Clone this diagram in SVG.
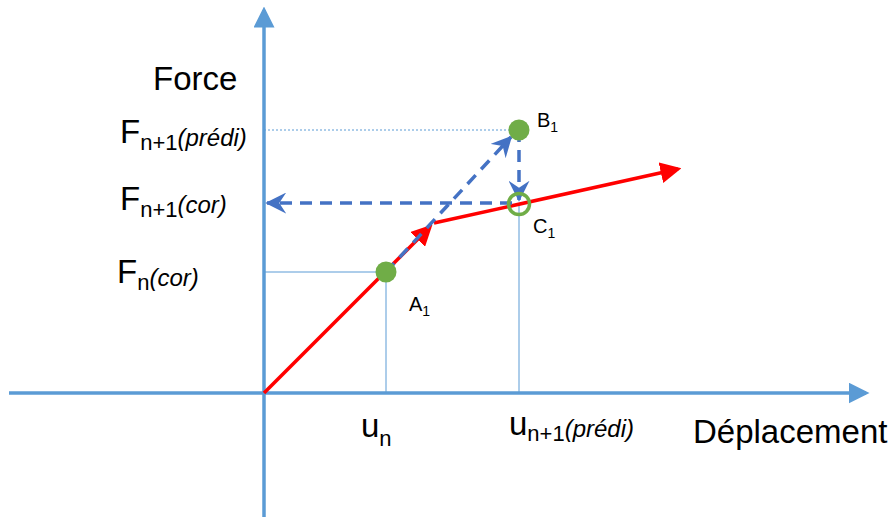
<svg xmlns="http://www.w3.org/2000/svg" width="894" height="517" viewBox="0 0 894 517">
<defs>
<style>
.ax{stroke:#5B9BD5;stroke-width:3.5;fill:none}
.thin{stroke:#5B9BD5;stroke-width:1;fill:none}
.red{stroke:#FF0000;stroke-width:3.5;fill:none}
.dash{stroke:#4472C4;stroke-width:3.5;fill:none;stroke-dasharray:12 8}
.t{font-family:"Liberation Sans",Arial,sans-serif;fill:#000}
.big{font-size:33px}
.sub{font-size:22px}
.it{font-style:italic;font-size:24px}
.lab{font-size:20px}
</style>
<marker id="ma" markerWidth="6" markerHeight="6" refX="5" refY="3" orient="auto" markerUnits="strokeWidth"><path d="M0,0 L6,3 L0,6 z" fill="#5B9BD5"/></marker>
<marker id="mr" markerWidth="6" markerHeight="6" refX="5" refY="3" orient="auto" markerUnits="strokeWidth"><path d="M0,0 L6,3 L0,6 z" fill="#FF0000"/></marker>
<marker id="mb" markerWidth="6" markerHeight="6" refX="5.5" refY="3" orient="auto" markerUnits="strokeWidth"><path d="M0,0 L6,3 L0,6 L2,3 z" fill="#4472C4"/></marker>
</defs>
<g id="axes">
<line class="ax" x1="264" y1="517" x2="264" y2="10" marker-end="url(#ma)"/>
<line class="ax" x1="9" y1="393" x2="866" y2="393" marker-end="url(#ma)"/>
</g>
<g id="connectors">
<line class="thin" x1="264" y1="272" x2="386" y2="272"/>
<line class="thin" x1="386" y1="272" x2="386" y2="393"/>
<line class="thin" x1="519" y1="204" x2="519" y2="393"/>
<line class="thin" x1="264" y1="130" x2="519" y2="130" stroke-dasharray="2 2"/>
<line class="red" x1="264" y1="393" x2="430" y2="227" marker-end="url(#mr)"/>
<line class="red" x1="434" y1="223" x2="678" y2="169" marker-end="url(#mr)"/>
<line class="dash" x1="386" y1="272" x2="511" y2="137" marker-end="url(#mb)"/>
<line class="dash" x1="519" y1="130" x2="519" y2="200" marker-end="url(#mb)"/>
<line class="dash" x1="512" y1="203" x2="267" y2="203" marker-end="url(#mb)"/>
</g>
<g id="A1">
<circle cx="386" cy="272" r="10.5" fill="#70AD47"/>
<text class="t lab" x="409" y="311">A<tspan font-size="14" dy="5">1</tspan></text>
</g>
<g id="B1">
<circle cx="519" cy="130" r="10.5" fill="#70AD47"/>
<text class="t lab" x="537" y="127">B<tspan font-size="14" dy="5">1</tspan></text>
</g>
<g id="C1">
<circle cx="519" cy="204" r="10.5" fill="none" stroke="#70AD47" stroke-width="3.5"/>
<text class="t lab" x="533" y="233">C<tspan font-size="14" dy="5">1</tspan></text>
</g>
<g id="labels">
<text class="t big" x="153" y="90">Force</text>
<text class="t big" x="120" y="143">F<tspan class="sub" dy="7">n+1</tspan><tspan class="it" dy="-4">(prédi)</tspan></text>
<text class="t big" x="120" y="210">F<tspan class="sub" dy="7">n+1</tspan><tspan class="it" dy="-4">(cor)</tspan></text>
<text class="t big" x="117" y="283">F<tspan class="sub" dy="7">n</tspan><tspan class="it" dy="-4">(cor)</tspan></text>
<text class="t big" x="361" y="437">u<tspan class="sub" dy="9">n</tspan></text>
<text class="t big" x="509" y="435">u<tspan class="sub" dy="6">n+1</tspan><tspan class="it" dy="-4">(prédi)</tspan></text>
<text class="t big" x="693" y="443">Déplacement</text>
</g>
</svg>
